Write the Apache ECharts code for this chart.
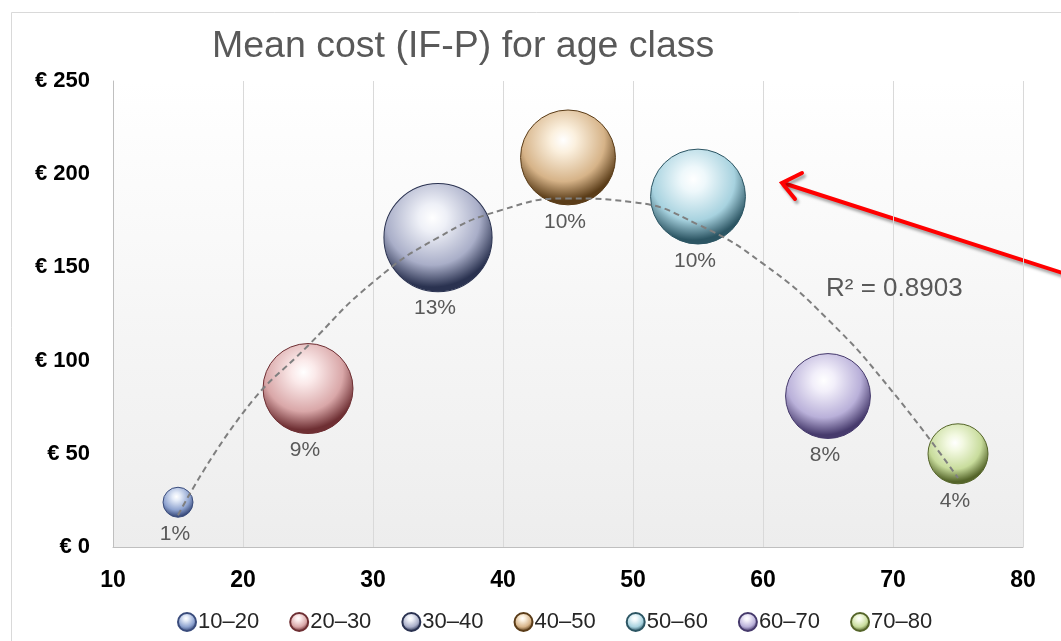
<!DOCTYPE html>
<html>
<head>
<meta charset="utf-8">
<script src="https://cdn.jsdelivr.net/npm/echarts@6/dist/echarts.min.js"></script>
<style>
  html, body { margin: 0; padding: 0; background: #ffffff; }
  #chart { width: 1061px; height: 641px; }
</style>
</head>
<body>
<div id="chart"></div>
<script>
// Age classes, bubble positions (class mid-age, mean cost in €) and share of patients (%)
const ageClasses = ['10–20', '20–30', '30–40', '40–50', '50–60', '60–70', '70–80'];
const ageMid = [15, 25, 35, 45, 55, 65, 75];
const meanCost = [24, 85, 166, 209, 188, 81, 50];
const sharePct = [1, 9, 13, 10, 10, 8, 4];

// Polynomial trend line (dashed), sampled along the age axis
const trendAge = [15, 20, 25, 30, 35, 40, 45, 50, 55, 60, 65, 70, 75];
const trendCost = [17, 72, 108, 142, 166, 181, 187, 185, 173, 152, 122, 83, 37];

const yTicks = [0, 50, 100, 150, 200, 250];
const xTicks = [10, 20, 30, 40, 50, 60, 70, 80];
const r2Text = 'R² = 0.8903';
const titleText = 'Mean cost (IF-P) for age class';

// Sphere shading per class: [highlight, base, rim]
const palette = [
  ['#e4ebf8', '#8ea3d0', '#3a4c7c'],
  ['#fbeaea', '#d9a7a8', '#6e2f33'],
  ['#eef0f7', '#a9aec8', '#2a3250'],
  ['#fbf0de', '#d6b388', '#5a3c18'],
  ['#eef8fb', '#a7d2df', '#2c5563'],
  ['#f2effa', '#b9b0d9', '#463a6c'],
  ['#f3f9e2', '#c8dc9c', '#55652a']
];

const FONT = '"Liberation Sans", Arial, sans-serif';

function sphere(c) {
  return {
    type: 'radial', x: 0.45, y: 0.32, r: 0.72,
    colorStops: [
      { offset: 0, color: '#ffffff' },
      { offset: 0.18, color: c[0] },
      { offset: 0.6, color: c[1] },
      { offset: 0.88, color: c[2] },
      { offset: 1, color: c[2] }
    ]
  };
}

const bubbleSeries = ageClasses.map((name, i) => ({
  name: name,
  type: 'scatter',
  z: 2,
  data: [[ageMid[i], meanCost[i], sharePct[i]]],
  symbolSize: d => 30 * Math.sqrt(d[2]),
  itemStyle: { color: sphere(palette[i]), borderColor: palette[i][2], borderWidth: 1, opacity: 1 },
  label: {
    show: true, position: 'bottom', distance: 6, offset: [-3, 0],
    formatter: p => p.value[2] + '%',
    color: '#595959', fontSize: 21, fontFamily: FONT
  },
  emphasis: { disabled: true }
}));

const trendSeries = {
  name: 'trend',
  type: 'line',
  z: 5,
  data: trendAge.map((a, i) => [a, trendCost[i]]),
  smooth: 0.5,
  symbol: 'none',
  lineStyle: { color: '#7f7f7f', width: 2, type: [6, 4] },
  silent: true
};

const chart = echarts.init(document.getElementById('chart'), null, { renderer: 'canvas' });

chart.setOption({
  backgroundColor: '#ffffff',
  animation: false,
  title: {
    text: titleText,
    left: 207, top: 23,
    textStyle: { color: '#595959', fontSize: 37.5, fontWeight: 'normal', fontFamily: FONT }
  },
  legend: {
    data: ageClasses,
    left: 172, top: 606,
    itemWidth: 18, itemHeight: 18, itemGap: 30,
    icon: 'circle',
    textStyle: { color: '#262626', fontSize: 22, fontFamily: FONT, padding: [0, 0, 0, -3] }
  },
  grid: { left: 113, right: 38, top: 81, bottom: 94 },
  xAxis: {
    type: 'value', min: xTicks[0], max: xTicks[xTicks.length - 1], interval: 10,
    axisLine: { show: true, lineStyle: { color: '#bfbfbf', width: 1 } },
    axisTick: { show: false },
    splitLine: { show: true, lineStyle: { color: '#d9d9d9', width: 1 } },
    axisLabel: { color: '#000000', fontSize: 23, fontWeight: 'bold', fontFamily: FONT, margin: 22 }
  },
  yAxis: {
    type: 'value', min: yTicks[0], max: yTicks[yTicks.length - 1], interval: 50,
    axisLine: { show: true, lineStyle: { color: '#bfbfbf', width: 1 } },
    axisTick: { show: false },
    splitLine: { show: false },
    axisLabel: {
      color: '#000000', fontSize: 22, fontWeight: 'bold', fontFamily: FONT, margin: 23,
      formatter: v => '€ ' + v
    }
  },
  graphic: [
    // chart frame
    { type: 'rect', z: -10, silent: true,
      shape: { x: 11.5, y: 12.5, width: 1100, height: 700 },
      style: { fill: '#ffffff', stroke: '#d9d9d9', lineWidth: 1 } },
    // plot area shading
    { type: 'rect', z: -9, silent: true,
      shape: { x: 113, y: 81, width: 910, height: 466 },
      style: { fill: { type: 'linear', x: 0, y: 0, x2: 0, y2: 1,
        colorStops: [{ offset: 0, color: '#ffffff' }, { offset: 1, color: '#ededed' }] } } },
    // R² annotation
    { type: 'text', z: 10, left: 826, top: 276, silent: true,
      style: { text: r2Text, fill: '#595959', fontSize: 26, fontFamily: FONT } },
    // red pointer arrow
    { type: 'group', z: 20, silent: true, children: [
      { type: 'line', shape: { x1: 1075, y1: 277, x2: 783, y2: 183 },
        style: { stroke: '#ff0000', lineWidth: 4, lineCap: 'round',
          shadowColor: 'rgba(0,0,0,0.35)', shadowBlur: 3, shadowOffsetX: 2, shadowOffsetY: 3 } },
      { type: 'polyline', shape: { points: [[802, 173], [782, 183], [795, 199]] },
        style: { stroke: '#ff0000', fill: 'none', lineWidth: 4, lineCap: 'round', lineJoin: 'miter',
          shadowColor: 'rgba(0,0,0,0.35)', shadowBlur: 3, shadowOffsetX: 2, shadowOffsetY: 3 } }
    ] }
  ],
  series: bubbleSeries.concat([trendSeries])
});
</script>
</body>
</html>
